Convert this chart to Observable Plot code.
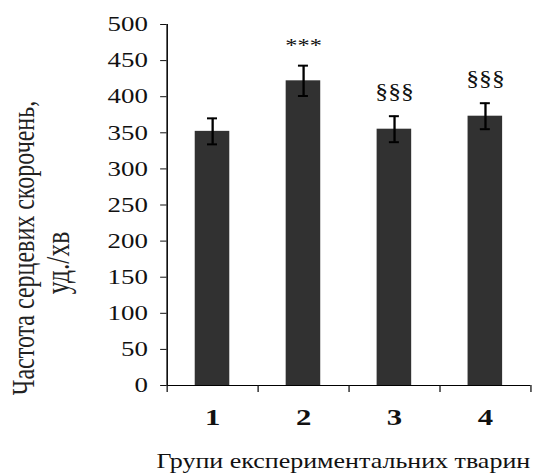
<!DOCTYPE html>
<html>
<head>
<meta charset="utf-8">
<script src="https://cdn.jsdelivr.net/npm/d3@7"></script>
<script src="https://cdn.jsdelivr.net/npm/@observablehq/plot@0.6"></script>
<style>
  html, body { margin: 0; padding: 0; background: #fff; }
  #chart { width: 538px; height: 474px; overflow: hidden; }
</style>
</head>
<body>
<div id="chart"></div>
<script>
// ---- data ----
const groups = [1, 2, 3, 4];
const means = [352, 422, 355, 373];
const errors = [18, 21, 18, 18];
const signs = ["", "***", "§§§", "§§§"];
const yTicks = [0, 50, 100, 150, 200, 250, 300, 350, 400, 450, 500];
const xBoundaries = [0.5, 1.5, 2.5, 3.5, 4.5];
const xTitle = "Групи експериментальних тварин";
const yTitle = ["Частота серцевих скорочень,", "уд./хв"];

// ---- layout constants ----
const stretch = 1.281;          // the reference is horizontally stretched
const W = 538 / stretch;
const barHalf = 0.19;
const capHalf = 0.055;

const data = groups.map((g, i) => ({g, mean: means[i], err: errors[i], sign: signs[i]}));

const plot = Plot.plot({
  width: W,
  height: 474,
  marginLeft: 130,
  marginRight: 6,
  marginTop: 24,
  marginBottom: 89,
  style: {fontFamily: "'Liberation Serif', 'Times New Roman', serif", background: "white", color: "#111"},
  x: {type: "linear", domain: [0.5, 4.5]},
  y: {domain: [0, 500]},
  marks: [
    Plot.rectY(data, {x1: d => d.g - barHalf, x2: d => d.g + barHalf, y: "mean", fill: "#313131"}),
    Plot.ruleX(data, {x: "g", y1: d => d.mean - d.err, y2: d => d.mean + d.err, stroke: "black", strokeWidth: 1.8}),
    Plot.ruleY(data, {y: d => d.mean + d.err, x1: d => d.g - capHalf, x2: d => d.g + capHalf, stroke: "black", strokeWidth: 2}),
    Plot.ruleY(data, {y: d => d.mean - d.err, x1: d => d.g - capHalf, x2: d => d.g + capHalf, stroke: "black", strokeWidth: 2}),
    Plot.text(data.filter(d => d.sign === "***"), {x: "g", y: d => d.mean + d.err, text: "sign", dy: -20, fontSize: 19, fill: "#111"}),
    Plot.text(data.filter(d => d.sign === "§§§"), {x: "g", y: d => d.mean + d.err, text: "sign", dy: -25, fontSize: 20, fill: "#111"}),
    Plot.ruleX([0.5], {stroke: "black", strokeWidth: 1.2}),
    Plot.ruleY([0], {stroke: "black", strokeWidth: 1.2}),
    Plot.axisY({ticks: yTicks, tickSize: 5, tickPadding: 10, fontSize: 21, label: null}),
    Plot.axisX({ticks: xBoundaries, tickSize: 7, tickFormat: () => "", label: null}),
    Plot.axisX({ticks: groups, tickSize: 0, tickPadding: 22, fontSize: 24, fontWeight: "bold", tickFormat: d3.format("d"), label: null}),
    Plot.text([xTitle], {frameAnchor: "bottom", textAnchor: "middle", lineAnchor: "middle", dy: 76, dx: -4.5, fontSize: 20.3, fill: "#111"}),
    Plot.text([yTitle[0]], {frameAnchor: "left", textAnchor: "middle", lineAnchor: "middle", rotate: -90, dx: -112, dy: 43, fontSize: 24, fill: "#222"}),
    Plot.text([yTitle[1]], {frameAnchor: "left", textAnchor: "middle", lineAnchor: "middle", rotate: -90, dx: -85, dy: 58, fontSize: 25.5, fill: "#222"})
  ]
});
plot.style.transformOrigin = "0 0";
plot.style.transform = `scaleX(${stretch})`;
plot.style.display = "block";
document.getElementById("chart").appendChild(plot);
</script>
</body>
</html>
